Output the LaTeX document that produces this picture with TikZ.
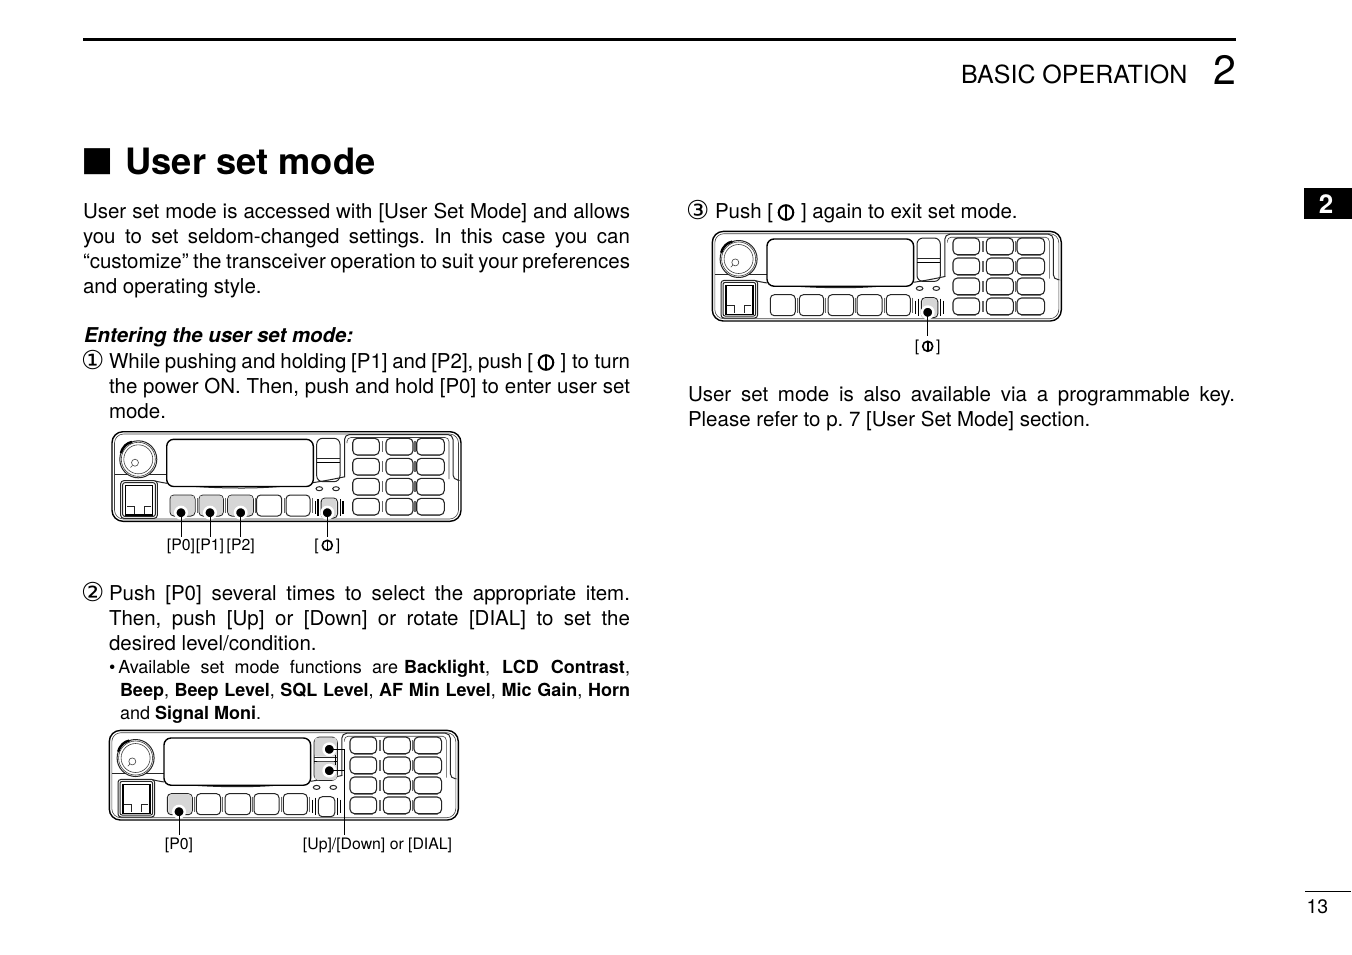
\documentclass[tikz,border=0pt]{standalone}
\usepackage{fontspec}
\setmainfont{TeX Gyre Heros}
\newfontfamily\djv{DejaVu Sans}
\newcommand{\bodyf}{\frenchspacing\fontsize{20.5}{25}\selectfont}
\newcommand{\smallf}{\frenchspacing\fontsize{18}{23}\selectfont}
\newcommand{\labelf}{\fontsize{15.8}{18}\selectfont}
\newcommand{\just}[2]{\makebox[#1pt][s]{#2}}
\tikzset{
  txt/.style={anchor=base west,inner sep=0pt,outer sep=0pt,font=\bodyf,align=left},
  smalltxt/.style={txt,font=\smallf},
  circnum/.style={txt,font=\djv\fontsize{26}{28}\selectfont},
  lab/.style={anchor=base,inner sep=0pt,outer sep=0pt,font=\labelf},
  outline/.style={line width=1.4pt,draw=black},
  thinl/.style={line width=0.6pt,draw=black!75},
  medl/.style={line width=1pt,draw=black!85},
  keyl/.style={line width=1.1pt,draw=black!85},
  shade/.style={line width=1.1pt,draw=black!35},
  dotn/.style={circle,fill=black,draw=white,line width=2.5pt,inner sep=0pt,minimum size=11.5pt},
  conn/.style={line width=0.9pt,draw=black},
  hlfill/.style={fill=black!16,rounded corners=3pt}
}
\usetikzlibrary{calc}
% power symbol drawn directly: centre, radius, stroke
\newcommand{\pwrsym}[3]{\draw[line width=#3pt] (#1) circle (#2);\draw[line width=#3pt] ($(#1)+(0,-#2)$) -- ($(#1)+(0,#2)$);}
\newcommand{\hlbox}[4]{\fill[hlfill] (#1,#2) rectangle (#3,#4);}
\newcommand{\radiopanel}[2]{%
\begin{scope}[shift={(#1)}]
  \draw[outline,rounded corners=11pt] (0,0.7) rectangle (349,90.3);
  \draw[thinl,rounded corners=9pt] (2.5,3) rectangle (346.5,88);
  % panel lines
  \draw[medl] (2.5,43.3) -- (55,43.3);
  \draw[medl] (43,50) .. controls (60,54) and (90,57) .. (130,57) .. controls (165,57) and (200,53) .. (233,45.7);
  % knob
  \fill[white] (26.3,28.3) circle (18.5);
  \draw[medl] (26.3,28.3) circle (18.5);
  \draw[thinl] (26.3,28.3) circle (17);
  \draw[thinl] (26.3,28.3) circle (14.5);
  \draw[line width=2.4pt] (8.9,22) .. controls (11,15) and (15,12) .. (20,10.9);
  \draw[thinl] (23,31.7) circle (3.5);
  \draw[thinl] (20.5,34.5) -- (18.5,36.5);
  % display
  \fill[white] (54.7,8.3) rectangle (201.3,55);
  \draw[outline,rounded corners=7pt] (54.7,8.3) rectangle (201.3,55.5);
  % up/down
  \draw[medl,rounded corners=6pt] (204.7,7.3) rectangle (228,50.7);
  \draw[medl] (204.7,27.5) -- (228,27.5);
  \draw[line width=1.4pt] (204.7,31.5) -- (228,31.5);
  % jack
  \draw[medl,rounded corners=3pt] (8.7,49.7) rectangle (45.3,87.3);
  \draw[medl,rounded corners=2pt] (10.7,51.7) rectangle (43.3,85.3);
  \draw[line width=1.4pt] (13.5,54.5) rectangle (40.5,84);
  \draw[medl] (15,75) -- (22,75) -- (22,82.5);
  \draw[medl] (39,75) -- (32,75) -- (32,82.5);
  % P buttons
  \foreach \xa/\xb in {58/83,87/111.3,115.7/141.3,144.7/169.7,174/198}
    \draw[medl,rounded corners=4pt] (\xa,64) rectangle (\xb,85);
  \foreach \xs in {85,113.5,143,172,200.5}
    \draw[line width=0.9pt,draw=black!60] (\xs,67) -- (\xs,82);
  % LEDs
  \draw[medl] (207.3,57.7) ellipse (3.3 and 2);
  \draw[medl] (224,57.7) ellipse (3.3 and 2);
  % power button
  \draw[medl,rounded corners=4pt] (209,67) rectangle (225.5,87);
  \draw[line width=1.2pt] (203.5,70) -- (203.5,83);
  \draw[line width=1.2pt] (206,68) -- (206,85);
  \draw[line width=1.2pt] (228.5,68) -- (228.5,85);
  \draw[line width=1.2pt] (231,70) -- (231,83);
  % keypad surround
  \draw[medl,rounded corners=5pt] (232.5,46) -- (232.5,3.5) -- (341,3.5) -- (341,49) -- (345,49);
  \draw[thinl,rounded corners=4pt] (235,12) -- (235,6.5) -- (337,6.5) -- (337,48);
  % keys
  \foreach \ya/\yb in {7.3/24,27.3/44,47.3/64,67.3/84}{
    \foreach \xa/\xb in {240.7/267.3,274/301,304.7/332.3}{
      \draw[shade] (\xa+4,\yb+0.9) -- (\xb-4,\yb+0.9);
      \draw[keyl,rounded corners=4.5pt] (\xa,\ya) rectangle (\xb,\yb);
    }
    \draw[line width=1.6pt,draw=black!60] (270.6,\ya+3) -- (270.6,\yb-3);
    \draw[line width=1.6pt,draw=black!60] (303,\ya+3) -- (303,\yb-3);
  }
  #2
\end{scope}}
\begin{document}
\begin{tikzpicture}[x=1pt,y=-1pt]
\useasboundingbox (0,0) rectangle (1352,954);
\fill[white] (0,0) rectangle (1352,954);
% header
\draw[line width=3pt] (83,39) -- (1236,39);
\node[txt,font=\fontsize{25}{28}\selectfont] (hdr) at (961,83) {BASIC OPERATION};
\node[txt,anchor=base east,font=\fontsize{41}{44}\selectfont] (hdrn) at (1236,84) {2};
% tab
\fill[black] (1304,188) rectangle (1351.5,219);
\node[txt,anchor=base,font=\bfseries\fontsize{26}{28}\selectfont,text=white] (tab) at (1326,213) {2};
% page number
\draw[line width=0.8pt] (1305,891) -- (1351,891);
\node[txt,font=\fontsize{19.5}{22}\selectfont] (pg) at (1306.5,913) {13};
% title
\node[txt,font=\djv\fontsize{34}{36}\selectfont] (sq) at (81,170.5) {■};
\node[txt,font=\bfseries\fontsize{36.3}{40}\selectfont] (title) at (125.5,174) {User set mode};
% left column
\node[txt] (l1) at (83,218) {\just{547}{User set mode is accessed with [User Set Mode] and allows}};
\node[txt] (l2) at (83,243) {\just{547}{you to set seldom-changed settings. In this case you can}};
\node[txt] (l3) at (83,268) {\just{547}{“customize” the transceiver operation to suit your preferences}};
\node[txt] (l4) at (83,293) {and operating style.};
\node[txt,font=\frenchspacing\bfseries\itshape\fontsize{20.4}{25}\selectfont] (ent) at (84,342.5) {Entering the user set mode:};
\node[circnum] (n1) at (81,369.5) {①};
\node[txt] (a1) at (109,368) {\just{424}{While pushing and holding [P1] and [P2], push [}};
\pwrsym{546,362.5}{7.3}{2}
\node[txt,anchor=base east] (a1b) at (630,368) {] to turn};
\node[txt] (a2) at (109,393) {\just{521}{the power ON. Then, push and hold [P0] to enter user set}};
\node[txt] (a3) at (109,418) {mode.};
\node[circnum] (n2) at (81,601.5) {②};
\node[txt] (b1) at (109,600) {\just{521}{Push [P0] several times to select the appropriate item.}};
\node[txt] (b2) at (109,625) {\just{521}{Then, push [Up] or [Down] or rotate [DIAL] to set the}};
\node[txt] (b3) at (109,650) {desired level/condition.};
\node[smalltxt] (c1) at (109,673) {\just{289}{•\hspace{3pt}Available set mode functions are}};
\node[smalltxt] (c1b) at (404,673) {\just{226}{\textbf{Backlight}, \textbf{LCD Contrast},}};
\node[smalltxt] (c2) at (120,696) {\just{510}{\textbf{Beep}, \textbf{Beep Level}, \textbf{SQL Level}, \textbf{AF Min Level}, \textbf{Mic Gain}, \textbf{Horn}}};
\node[smalltxt] (c3) at (120,719) {and \textbf{Signal Moni}.};
% right column
\node[circnum] (n3) at (686,219.5) {③};
\node[txt] (d1) at (715,218) {Push [};
\pwrsym{786,212.5}{7.3}{2}
\node[txt] (d1b) at (801,218) {] again to exit set mode.};
\node[txt] (e1) at (688,401) {\just{547}{User set mode is also available via a programmable key.}};
\node[txt] (e2) at (688,426) {Please refer to p. 7 [User Set Mode] section.};
% radios
\radiopanel{112,431}{
  \hlbox{58.5}{64.5}{82.5}{84}\hlbox{87.5}{64.5}{110.8}{84}\hlbox{116.2}{64.5}{140.8}{84}
  \hlbox{210}{67.5}{224.5}{86}}
\radiopanel{109.3,729.7}{
  \hlbox{59}{64.5}{82.5}{84}
  \hlbox{205.2}{7.8}{227.5}{27}\hlbox{205.2}{32}{227.5}{50.2}
  \draw[line width=1.6pt] (226,25) -- (226,35);}
\radiopanel{712.3,230.7}{\hlbox{210}{67.5}{224.5}{86}}
% radio 1 callouts
\node[dotn] (p0) at (181,512.7) {};
\node[dotn] (p1) at (210,512.7) {};
\node[dotn] (p2) at (240.7,512.7) {};
\node[dotn] (pw) at (327.3,512.7) {};
\node[lab] (lp0) at (181,550) {[P0]};
\node[lab] (lp1) at (210,550) {[P1]};
\node[lab] (lp2) at (240.7,550) {[P2]};
\node[lab] (lpw) at (327.3,550) {[\hspace{17pt}]};
\pwrsym{327.3,545.3}{5}{1.6}
\coordinate (e0) at (181,536.7);
\coordinate (e1c) at (210,536.7);
\coordinate (e2c) at (240.7,536.7);
\coordinate (e3c) at (327.3,536.7);
\draw[conn] (p0.center) -- (e0);
\draw[conn] (p1.center) -- (e1c);
\draw[conn] (p2.center) -- (e2c);
\draw[conn] (pw.center) -- (e3c);
% radio 2 callouts
\node[dotn] (q0) at (179,811.7) {};
\node[dotn] (qu) at (329.3,749.3) {};
\node[dotn] (qd) at (329.3,770.7) {};
\node[lab] (lq0) at (179,849) {[P0]};
\node[lab] (lqu) at (377.5,849) {[Up]/[Down] or [DIAL]};
\coordinate (q0e) at (179,835);
\coordinate (que) at (344.5,835);
\draw[conn] (q0.center) -- (q0e);
\draw[conn] (qu.center) -| (que);
\draw[conn] (qd.center) -| (que);
% radio 3 callouts
\node[dotn] (rw) at (927.7,312.3) {};
\node[lab] (lrw) at (927.7,351) {[\hspace{17pt}]};
\pwrsym{927.7,346.3}{5}{1.6}
\coordinate (rwe) at (927.7,336);
\draw[conn] (rw.center) -- (rwe);
\end{tikzpicture}
\end{document}
